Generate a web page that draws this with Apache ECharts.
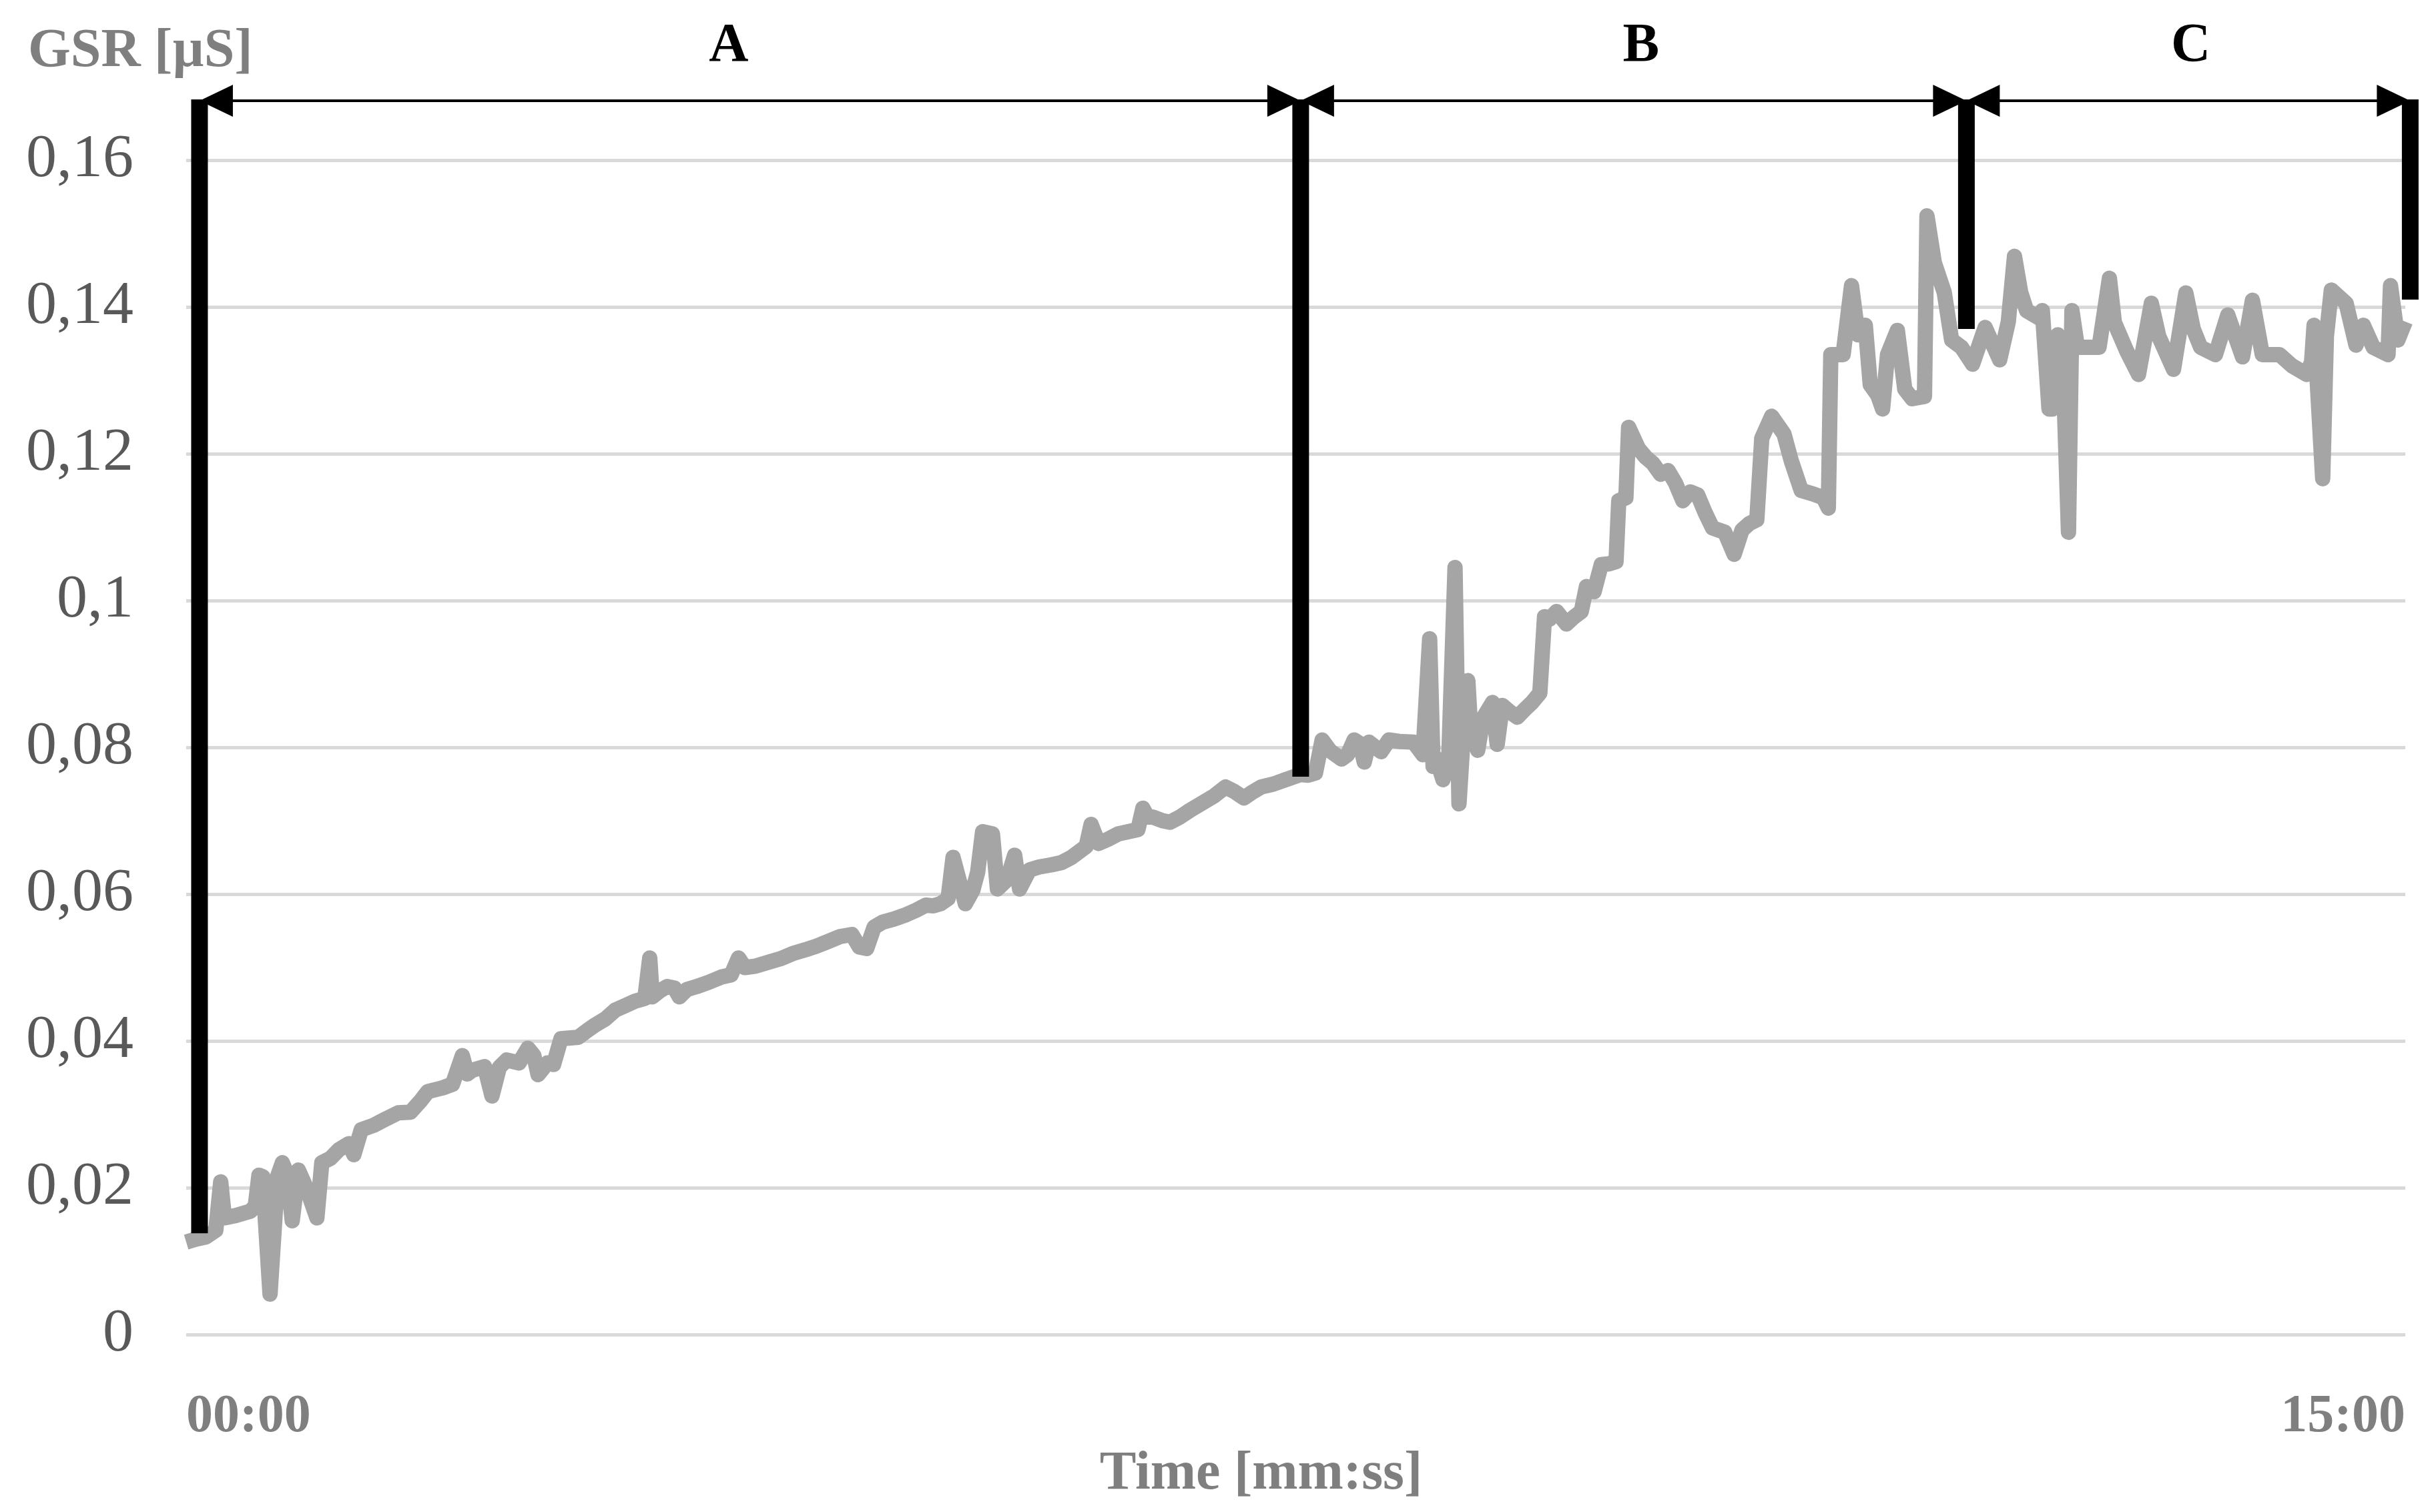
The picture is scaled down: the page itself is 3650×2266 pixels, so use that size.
<!DOCTYPE html>
<html>
<head>
<meta charset="utf-8">
<script src="https://cdn.jsdelivr.net/npm/echarts@6/dist/echarts.min.js"></script>
<style>
  html, body { margin: 0; padding: 0; background: #ffffff; }
  #chart { width: 3650px; height: 2266px; }
</style>
</head>
<body>
<div id="chart"></div>
<script>
// ---- Data (time in seconds, GSR in µS) ----
const timeSec = [
  0, 4, 8, 12, 14, 15.5, 20, 26, 28, 29.5, 31, 34, 36, 37, 39, 41, 43, 45.5, 48, 50,
  53, 55, 58.5, 62, 66, 68, 71, 76, 80, 86, 91, 95, 98, 104, 108, 112, 114, 116, 121, 124,
  127, 130, 135, 138.6, 141, 142.7, 146.5, 149, 152, 159, 163, 166, 170, 174, 178, 182, 186, 188, 189, 192,
  195, 198, 200, 203, 207, 212, 217, 221, 224, 226.6, 231, 236, 241, 246, 251, 255.5, 260, 265, 270, 273,
  276, 279, 282.6, 287, 292, 296, 300, 303, 306, 309, 311, 313, 316, 319, 321, 323, 327, 329, 333, 336,
  338, 342, 346, 351, 355, 359, 363, 365, 367, 370, 374, 378, 382, 386, 388, 390, 392, 396, 399, 403,
  407, 412, 417, 421.5, 425, 429, 432, 436, 441, 446, 452, 455, 458, 460.7, 464, 468.6, 471, 473.7, 476, 477.8,
  479.7, 484.6, 487.8, 492, 497.8, 501.6, 504.3, 505.7, 507, 509.7, 512, 514.6, 516.2, 518, 519.8, 521, 523.8, 526, 529.8, 531.7,
  533.8, 537, 539.8, 543, 545.8, 549, 550.9, 553, 555.8, 559.8, 563, 565.8, 567.9, 571, 573.9, 577, 579.9, 581, 583.9, 585,
  589, 592, 594.8, 598, 601, 604, 607, 610, 613, 616, 619, 624, 627.8, 631, 634, 637, 639, 643, 648, 651,
  655, 660, 664, 666, 667, 672, 675.4, 678, 681, 683, 686, 688, 690, 694, 697, 700, 705, 706, 709, 713,
  716, 720, 724.5, 729.6, 735.5, 739, 741.5, 744, 746.4, 751.5, 752.8, 755.5, 757, 759, 761, 763.4, 764.8, 767, 771, 775.8,
  780, 782, 787, 791.8, 797, 800, 802, 806, 811, 814, 817, 823, 828, 834, 838, 842, 849, 854, 860, 862,
  863, 866.5, 868, 870, 876, 880, 883, 887, 893, 894, 897, 900
];
const gsrValue = [
  0.0126, 0.0130, 0.0133, 0.0142, 0.0208, 0.0159, 0.0162, 0.0168, 0.0175, 0.0217, 0.0215, 0.0055, 0.0160, 0.0215, 0.0234, 0.0218, 0.0155, 0.0224, 0.0205, 0.0188,
  0.0159, 0.0234, 0.0240, 0.0252, 0.0260, 0.0245, 0.0279, 0.0285, 0.0292, 0.0302, 0.0303, 0.0318, 0.0331, 0.0336, 0.0341, 0.0380, 0.0355, 0.0360, 0.0365, 0.0325,
  0.0364, 0.0374, 0.0370, 0.0390, 0.0380, 0.0354, 0.0370, 0.0368, 0.0403, 0.0405, 0.0415, 0.0422, 0.0430, 0.0442, 0.0448, 0.0454, 0.0458, 0.0513, 0.0460, 0.0468,
  0.0474, 0.0472, 0.0460, 0.0470, 0.0474, 0.0480, 0.0487, 0.0490, 0.0513, 0.0500, 0.0502, 0.0507, 0.0512, 0.0519, 0.0524, 0.0529, 0.0535, 0.0542, 0.0545, 0.0528,
  0.0526, 0.0555, 0.0562, 0.0566, 0.0572, 0.0578, 0.0585, 0.0584, 0.0587, 0.0594, 0.0650, 0.0625, 0.0587, 0.0605, 0.0630, 0.0685, 0.0682, 0.0607, 0.0620, 0.0653,
  0.0607, 0.0633, 0.0637, 0.0640, 0.0643, 0.0650, 0.0660, 0.0665, 0.0695, 0.0669, 0.0675, 0.0682, 0.0685, 0.0688, 0.0717, 0.0705, 0.0705, 0.0700, 0.0698, 0.0705,
  0.0714, 0.0724, 0.0734, 0.0746, 0.0740, 0.0731, 0.0738, 0.0746, 0.0750, 0.0756, 0.0763, 0.0762, 0.0765, 0.0810, 0.0795, 0.0784, 0.0790, 0.0810, 0.0805, 0.0780,
  0.0807, 0.0794, 0.0810, 0.0808, 0.0807, 0.0790, 0.0948, 0.0774, 0.0785, 0.0756, 0.0780, 0.1045, 0.0723, 0.0820, 0.0891, 0.0820, 0.0796, 0.0840, 0.0861, 0.0804,
  0.0857, 0.0848, 0.0841, 0.0852, 0.0861, 0.0874, 0.0978, 0.0975, 0.0985, 0.0968, 0.0978, 0.0985, 0.1019, 0.1012, 0.1049, 0.1050, 0.1053, 0.1136, 0.1140, 0.1236,
  0.1207, 0.1195, 0.1187, 0.1172, 0.1177, 0.1160, 0.1136, 0.1148, 0.1144, 0.1120, 0.1099, 0.1093, 0.1063, 0.1096, 0.1105, 0.1110, 0.1221, 0.1251, 0.1227, 0.1190,
  0.1150, 0.1145, 0.1140, 0.1126, 0.1335, 0.1335, 0.1429, 0.1362, 0.1375, 0.1294, 0.1280, 0.1261, 0.1335, 0.1368, 0.1288, 0.1275, 0.1278, 0.1524, 0.1460, 0.1420,
  0.1355, 0.1345, 0.1322, 0.1372, 0.1328, 0.1380, 0.1469, 0.1420, 0.1395, 0.1385, 0.1395, 0.1261, 0.1261, 0.1362, 0.1340, 0.1093, 0.1395, 0.1345, 0.1345, 0.1345,
  0.1439, 0.1379, 0.1340, 0.1308, 0.1405, 0.1360, 0.1345, 0.1315, 0.1419, 0.1370, 0.1345, 0.1335, 0.1389, 0.1332, 0.1409, 0.1335, 0.1335, 0.1320, 0.1308, 0.1325,
  0.1375, 0.1166, 0.1360, 0.1423, 0.1405, 0.1348, 0.1375, 0.1345, 0.1335, 0.1429, 0.1355, 0.1380
];

// Phase boundary markers (time in s, GSR value where the marker bar ends)
const markerTime = [5.4, 452, 722, 902];
const markerBottom = [0.0138, 0.076, 0.137, 0.141];
const arrowLevel = 0.1681;          // GSR level of the dimension arrows
const phaseNames = ['A', 'B', 'C'];
const phaseLabelTime = [220, 590, 813];
const phaseLabelLevel = 0.1755;

// Axis ticks
const yMin = 0, yMax = 0.16, yStep = 0.02;
const xMin = 0, xMax = 900, xStep = 900;

const FONT = '"Liberation Serif", "Times New Roman", serif';

const lineData = timeSec.map((t, i) => [t, gsrValue[i]]);
const barData = markerTime.map((t, i) => [t, markerBottom[i], arrowLevel]);
const arrowData = [];
for (let i = 0; i < markerTime.length - 1; i++) {
  arrowData.push([markerTime[i], markerTime[i + 1], arrowLevel]);
}
const labelData = phaseNames.map((n, i) => [phaseLabelTime[i], phaseLabelLevel, n]);

function mmss(v) {
  const m = Math.floor(v / 60), s = Math.round(v % 60);
  return String(m).padStart(2, '0') + ':' + String(s).padStart(2, '0');
}

const chart = echarts.init(document.getElementById('chart'), null, { renderer: 'canvas' });
chart.setOption({
  animation: false,
  backgroundColor: '#ffffff',
  title: {
    text: 'GSR [µS]',
    left: 37,
    top: 32,
    textStyle: { fontFamily: FONT, fontSize: 82, fontWeight: 'bold', color: '#7F7F7F' }
  },
  grid: { left: 279, right: 46, top: 240, bottom: 266, containLabel: false, outerBoundsMode: 'none' },
  xAxis: {
    type: 'value',
    min: xMin, max: xMax, interval: xStep,
    name: 'Time [mm:ss]',
    nameLocation: 'middle',
    nameGap: 169,
    nameTextStyle: { fontFamily: FONT, fontSize: 82, fontWeight: 'bold', color: '#7F7F7F', padding: [0, 104, 0, 0] },
    axisLine: { show: false },
    axisTick: { show: false },
    splitLine: { show: false },
    axisLabel: {
      margin: 84,
      fontFamily: FONT, fontSize: 80, fontWeight: 'bold', color: '#7F7F7F',
      alignMinLabel: 'left', alignMaxLabel: 'right',
      formatter: mmss
    }
  },
  yAxis: {
    type: 'value',
    min: yMin, max: yMax, interval: yStep,
    axisLine: { show: false },
    axisTick: { show: false },
    splitLine: { show: true, lineStyle: { color: '#D9D9D9', width: 5 } },
    axisLabel: {
      margin: 79,
      fontFamily: FONT, fontSize: 92, color: '#595959',
      formatter: v => String(+v.toFixed(4)).replace('.', ',')
    }
  },
  series: [
    {
      type: 'line',
      data: lineData,
      showSymbol: false,
      symbol: 'none',
      clip: false,
      z: 2,
      lineStyle: { color: '#A5A5A5', width: 23, join: 'round', cap: 'butt' }
    },
    {
      type: 'custom',
      data: barData,
      encode: { x: 0, y: [1, 2] },
      z: 5,
      silent: true,
      renderItem: function (params, api) {
        const t = api.value(0);
        const pb = api.coord([t, api.value(1)]);
        const pt = api.coord([t, api.value(2)]);
        return {
          type: 'rect',
          shape: { x: pb[0] - 12.5, y: pt[1] - 2, width: 25, height: pb[1] - pt[1] + 2 },
          style: { fill: '#000000' }
        };
      }
    },
    {
      type: 'custom',
      data: arrowData,
      encode: { x: [0, 1], y: 2 },
      z: 6,
      silent: true,
      renderItem: function (params, api) {
        const p0 = api.coord([api.value(0), api.value(2)]);
        const p1 = api.coord([api.value(1), api.value(2)]);
        const y = p0[1], L = 50, H = 24;
        return {
          type: 'group',
          children: [
            { type: 'line', shape: { x1: p0[0], y1: y, x2: p1[0], y2: y }, style: { stroke: '#000000', lineWidth: 4 } },
            { type: 'polygon', shape: { points: [[p0[0], y], [p0[0] + L, y - H], [p0[0] + L, y + H]] }, style: { fill: '#000000' } },
            { type: 'polygon', shape: { points: [[p1[0], y], [p1[0] - L, y - H], [p1[0] - L, y + H]] }, style: { fill: '#000000' } }
          ]
        };
      }
    },
    {
      type: 'custom',
      data: labelData,
      encode: { x: 0, y: 1 },
      z: 6,
      silent: true,
      renderItem: function (params, api) {
        const p = api.coord([api.value(0), api.value(1)]);
        return {
          type: 'text',
          x: p[0], y: p[1],
          style: {
            text: labelData[params.dataIndex][2],
            fontFamily: FONT, fontSize: 82, fontWeight: 'bold',
            fill: '#000000', align: 'center', verticalAlign: 'middle'
          }
        };
      }
    }
  ]
});
</script>
</body>
</html>
